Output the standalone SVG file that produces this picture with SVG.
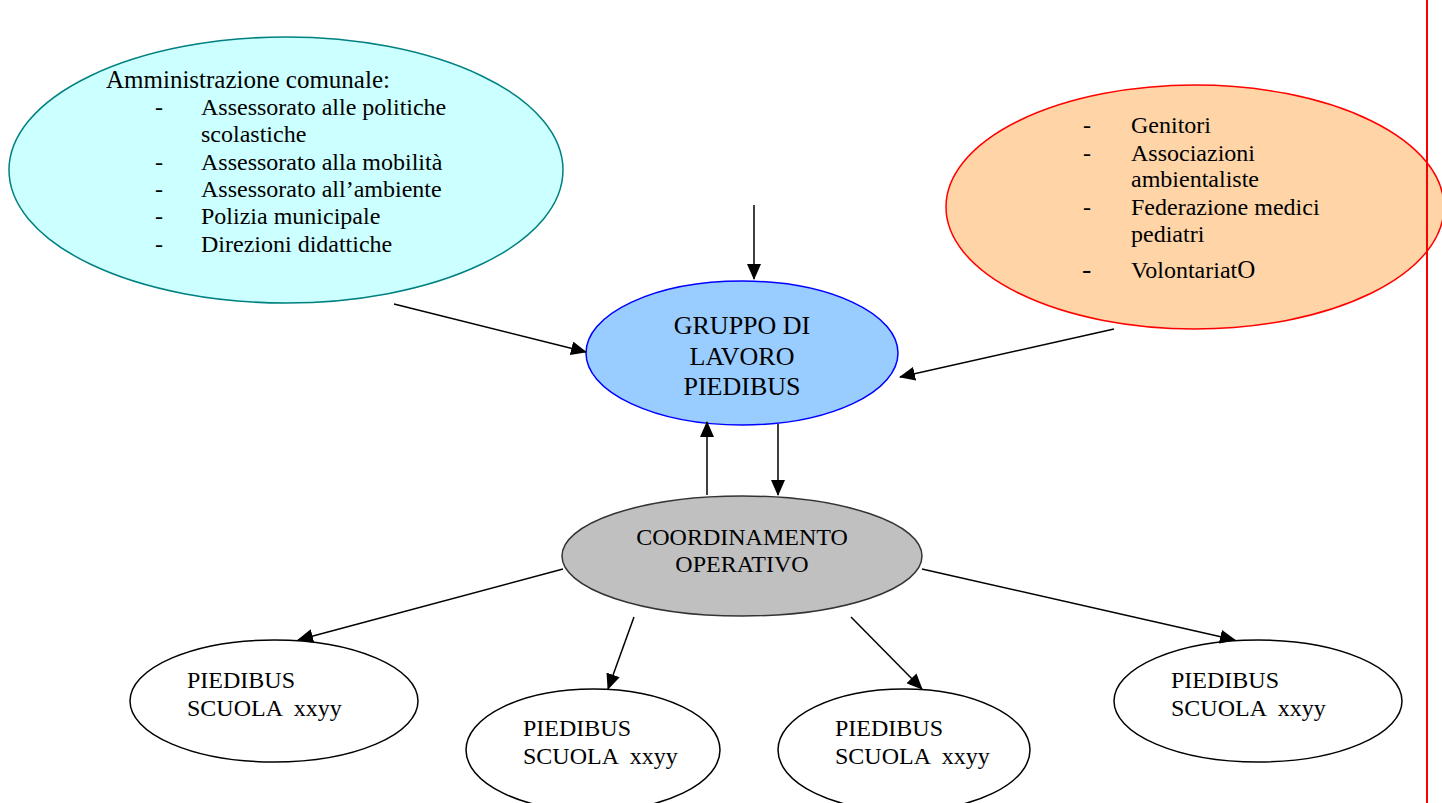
<svg xmlns="http://www.w3.org/2000/svg" width="1442" height="803" viewBox="0 0 1442 803">
<style>
text{font-family:"Liberation Serif","Times New Roman",serif;fill:#000}
.t24{font-size:24px}
.t26{font-size:26px}
.c{stroke:#000;stroke-width:1.5;fill:none}
.small{fill:#fff;stroke:#000;stroke-width:1.5}
</style>
<defs>
<marker id="ah" markerWidth="16" markerHeight="14" refX="15" refY="7" orient="auto" markerUnits="userSpaceOnUse">
<path d="M0,0 L16,7 L0,14 Z" fill="#000"/>
</marker>
</defs>
<rect width="1442" height="803" fill="#fff"/>
<g id="admin">
<ellipse cx="286" cy="170" rx="277" ry="133" fill="#CCFFFF" stroke="#008080" stroke-width="1.5"/>
<g class="t24">
<text x="106" y="88" style="font-size:25px">Amministrazione comunale:</text>
<text x="155" y="115">-</text><text x="201" y="115">Assessorato alle politiche</text>
<text x="201" y="142">scolastiche</text>
<text x="155" y="170">-</text><text x="201" y="170">Assessorato alla mobilità</text>
<text x="155" y="197">-</text><text x="201" y="197">Assessorato all’ambiente</text>
<text x="155" y="224">-</text><text x="201" y="224">Polizia municipale</text>
<text x="155" y="252">-</text><text x="201" y="252">Direzioni didattiche</text>
</g>
</g>
<g id="others">
<ellipse cx="1195" cy="207" rx="249" ry="122" fill="#FFD5A8" stroke="#FF0000" stroke-width="1.5"/>
<g class="t24">
<text x="1083" y="133">-</text><text x="1131" y="133">Genitori</text>
<text x="1083" y="161">-</text><text x="1131" y="161">Associazioni</text>
<text x="1131" y="187">ambientaliste</text>
<text x="1083" y="215">-</text><text x="1131" y="215">Federazione medici</text>
<text x="1131" y="242">pediatri</text>
<text x="1082" y="278" style="font-size:28px">-</text><text x="1131" y="278">Volontariat<tspan style="font-size:25px">O</tspan></text>
</g>
</g>
<g id="gruppo">
<ellipse cx="742" cy="353" rx="156" ry="72" fill="#99CCFF" stroke="#0000FF" stroke-width="1.5"/>
<g class="t26" text-anchor="middle">
<text x="742" y="334">GRUPPO DI</text>
<text x="742" y="365">LAVORO</text>
<text x="742" y="395">PIEDIBUS</text>
</g>
</g>
<g id="coordinamento">
<ellipse cx="742" cy="556" rx="180" ry="60" fill="#C0C0C0" stroke="#333333" stroke-width="1.5"/>
<g class="t24" text-anchor="middle">
<text x="742" y="545">COORDINAMENTO</text>
<text x="742" y="572">OPERATIVO</text>
</g>
</g>
<g id="scuola1">
<ellipse class="small" cx="274" cy="701" rx="144" ry="61"/>
<text class="t24" x="187" y="688">PIEDIBUS</text>
<text class="t24" x="187" y="716" xml:space="preserve">SCUOLA  xxyy</text>
</g>
<g id="scuola2">
<ellipse class="small" cx="593" cy="750" rx="127" ry="61"/>
<text class="t24" x="523" y="736">PIEDIBUS</text>
<text class="t24" x="523" y="764" xml:space="preserve">SCUOLA  xxyy</text>
</g>
<g id="scuola3">
<ellipse class="small" cx="904" cy="750" rx="126" ry="61"/>
<text class="t24" x="835" y="736">PIEDIBUS</text>
<text class="t24" x="835" y="764" xml:space="preserve">SCUOLA  xxyy</text>
</g>
<g id="scuola4">
<ellipse class="small" cx="1258" cy="701" rx="144" ry="61"/>
<text class="t24" x="1171" y="688">PIEDIBUS</text>
<text class="t24" x="1171" y="716" xml:space="preserve">SCUOLA  xxyy</text>
</g>
<g id="connectors">
<line class="c" x1="754" y1="205" x2="754" y2="279" marker-end="url(#ah)"/>
<line class="c" x1="394" y1="304" x2="586" y2="352" marker-end="url(#ah)"/>
<line class="c" x1="1114" y1="329" x2="900" y2="377" marker-end="url(#ah)"/>
<line class="c" x1="707" y1="495" x2="707" y2="422" marker-end="url(#ah)"/>
<line class="c" x1="778" y1="424" x2="778" y2="495" marker-end="url(#ah)"/>
<line class="c" x1="563" y1="569" x2="298" y2="640" marker-end="url(#ah)"/>
<line class="c" x1="634" y1="617" x2="608" y2="689" marker-end="url(#ah)"/>
<line class="c" x1="851" y1="617" x2="922" y2="689" marker-end="url(#ah)"/>
<line class="c" x1="922" y1="569" x2="1235" y2="640" marker-end="url(#ah)"/>
</g>
<line x1="1427" y1="0" x2="1427" y2="803" stroke="#FF0000" stroke-width="2"/>
</svg>
